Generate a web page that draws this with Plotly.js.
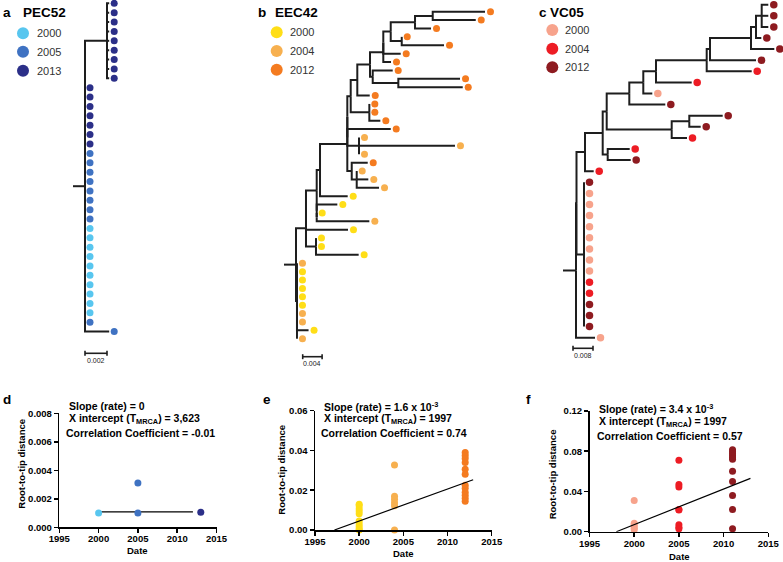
<!DOCTYPE html>
<html><head><meta charset="utf-8">
<script src="https://cdn.plot.ly/plotly-3.0.1.min.js"></script>
<style>html,body{margin:0;padding:0;background:#fff}#chart{width:783px;height:562px}</style>
</head><body><div id="chart"></div>
<script>
// ================= DATA =================
// --- Tree a: PEC52 (Newick, branch lengths in substitutions/site, tip label = year)
const pec52_top = "(2013:0.0002,2013:0.0002,2013:0.0002,2013:0.0002,2013:0.0002,2013:0.0002,2013:0.0002,2013:0.0002,2013:0.0002)";
const pec52_low = "2013:0,2013:0,2013:0,2013:0,2013:0,2013:0,2013:0,2005:0,2005:0,2005:0,2005:0,2005:0,2005:0,2005:0,2005:0,2000:0,2000:0,2000:0,2000:0,2000:0,2000:0,2000:0,2000:0,2000:0,2000:0,2005:0";
const treeA = "(" + pec52_top + ":0.002," + pec52_low + ",2005:0.0022);";

// --- Tree b: EEC42
const b_n432 = "(2012:0.01078,2012:0.00887)";
const b_n415 = "(" + b_n432 + ":0.00365,2012:0.0033)";
const b_n401 = "(2012:0,2012:0.00872)";
const b_n390 = "(" + b_n415 + ":0.00501," + b_n401 + ":0.00227)";
const b_n383 = "((" + b_n390 + ":0.00153,2012:0.00359):0,2012:0.00159)";
const b_n398 = "(2012:0.01272,2012:0.01328)";
const b_n372 = "(2012:0.00412," + b_n398 + ":0.00528)";
const b_n370 = "(" + b_n383 + ":0.00274," + b_n372 + ":0.00056)";
const b_n357 = "(" + b_n370 + ":0.00262,2012:0.00256)";
const b_n369 = "(2012:0,2012:0,2012:0.00227)";
const b_n350 = "(" + b_n357 + ":0.00136," + b_n369 + ":0.00384)";
const b_cA = "(2004:0,2004:0.01979,2004:0)";
const b_n356 = "(2004:0,2004:0.00239,2004:0.0046)";
const b_cB = "(2012:0.0033," + b_n356 + ":0.00103)";
const b_n347 = "((" + b_n350 + ":0.0007,(2012:0.00895," + b_cA + ":0.00241):0):0," + b_cB + ":0.00091)";
const b_n320 = "(" + b_n347 + ":0.00563,2000:0.00571)";
const b_n317 = "(" + b_n320 + ":0.00068,(2000:0.00425,(2000:0,2004:0.01085):0):0)";
const b_n316 = "(2000:0,2000:0,2000:0.0088)";
const b_n306 = "((" + b_n317 + ":0.00221,2000:0.00866):0," + b_n316 + ":0.00206)";
const b_nX = "(2004:0,2000:0,2000:0,2000:0,2000:0,2000:0,2004:0,2004:0,2000:0.00239,2004:0)";
const treeB = "(" + b_n306 + ":0.00206," + b_nX + ":0.0002);";

// --- Tree c: VC05
const c_A = "(2012:0.00264,2012:0.00264,2012:0.00264)";
const c_B = "(" + c_A + ":0.00228,2012:0.00212)";
const c_C = "(" + c_B + ":0.002,2012:0.00932)";
const c_D = "(" + c_C + ":0.0164,2012:0.0184)";
const c_E = "(" + c_D + ":0.00132,2004:0.018)";
const c_F = "(" + c_E + ":0.02028,2004:0.01428)";
const c_G = "(" + c_F + ":0.00508,2000:0.0036)";
const c_H = "(" + c_G + ":0.0056,2012:0.0144)";
const c_I = "((2012:0.01336,2012:0.00456):0.00704,2004:0.00612)";
const c_K = "(" + c_H + ":0.00904," + c_I + ":0.026)";
const c_L = "(2004:0.0088,2012:0.0092)";
const c_M = "(" + c_K + ":0.0016," + c_L + ":0.002)";
const c_N = "(" + c_M + ":0.00708,2004:0.00348)";
const c_Y = "(2012:0,2000:0,2000:0,2000:0,2000:0,2000:0,2000:0,2000:0,2000:0,2004:0,2004:0,2012:0,2012:0,2012:0)";
const c_P = "(" + c_N + ":0.0034," + c_Y + ":0.003)";
const treeC = "(" + c_P + ":0.0002,2000:0.0076);";

// --- Legends
const yearsA = ["2000", "2005", "2013"];
const yearsB = ["2000", "2004", "2012"];
const yearsC = ["2000", "2004", "2012"];
const scaleA = 0.002, scaleB = 0.004, scaleC = 0.008;

// --- Root-to-tip regressions
// d: PEC52
const d_x2000 = [2000], d_y2000 = [0.001];
const d_x2005 = [2005, 2005], d_y2005 = [0.001, 0.0031];
const d_x2013 = [2013], d_y2013 = [0.00105];
const d_fitX = [2000, 2012], d_fitY = [0.00108, 0.00108];
// e: EEC42
const e_x2000 = [2000,2000,2000,2000,2000,2000,2000,2000,2000,2000];
const e_y2000 = [0.013, 0.0122, 0.0107, 0.0095, 0.0082, 0.0045, 0.003, 0.0017, 0.0005, 0];
const e_x2004 = [2004,2004,2004,2004,2004,2004];
const e_y2004 = [0.0327, 0.017, 0.0155, 0.0137, 0.0122, 0];
const e_x2012 = [2012,2012,2012,2012,2012,2012,2012,2012,2012,2012,2012,2012];
const e_y2012 = [0.039, 0.0375, 0.036, 0.034, 0.0305, 0.028, 0.0225, 0.021, 0.019, 0.0175, 0.016, 0.0145];
const e_fitX = [1997.2, 2012.9], e_fitY = [0, 0.0253];
// f: VC05
const f_x2000 = [2000,2000,2000,2000,2000,2000];
const f_y2000 = [0.031, 0.0085, 0.007, 0.005, 0.0035, 0.002];
const f_x2004 = [2005,2005,2005,2005,2005,2005,2005,2005];
const f_y2004 = [0.071, 0.047, 0.0445, 0.022, 0.0215, 0.007, 0.0045, 0.003];
const f_x2012 = [2011,2011,2011,2011,2011,2011,2011,2011,2011,2011,2011];
const f_y2012 = [0.0815, 0.0795, 0.0775, 0.0755, 0.0735, 0.072, 0.06, 0.05, 0.036, 0.022, 0.003];
const f_fitX = [1998, 2013], f_fitY = [0, 0.053];

// ================= STYLE =================
const colA = {"2000": "#58c6ef", "2005": "#3f72c2", "2013": "#2b2f88"};
const colB = {"2000": "#ffde17", "2004": "#f7b04f", "2012": "#f47b20"};
const colC = {"2000": "#f7a38c", "2004": "#ed1c24", "2012": "#8e1b20"};
const FONT = "Liberation Sans, Arial, Helvetica, sans-serif";
const W = 783, H = 562;
const px = x => x / W, py = y => 1 - y / H;

const traces = [], annotations = [];
const layout = {
  width: W, height: H, margin: {l: 0, r: 0, t: 0, b: 0},
  paper_bgcolor: "#ffffff", plot_bgcolor: "rgba(0,0,0,0)", showlegend: false,
  font: {family: FONT, color: "#000"}, annotations: annotations
};

function parseNewick(str) {
  const s = str.replace(/\s+/g, "");
  let i = 0;
  function node() {
    const n = {children: [], label: "", len: 0};
    if (s[i] === "(") {
      i++;
      n.children.push(node());
      while (s[i] === ",") { i++; n.children.push(node()); }
      i++;
    }
    let lab = "";
    while (i < s.length && ":,();".indexOf(s[i]) < 0) lab += s[i++];
    n.label = lab;
    if (s[i] === ":") {
      i++; let num = "";
      while (i < s.length && ",();".indexOf(s[i]) < 0) num += s[i++];
      n.len = parseFloat(num);
    }
    return n;
  }
  return node();
}

function layoutTree(root) {
  const tips = [];
  (function sx(n, x) { n.x = x; n.children.forEach(c => sx(c, x + c.len)); })(root, 0);
  (function sy(n) {
    if (!n.children.length) { n.y = tips.length; tips.push(n); }
    else { n.children.forEach(sy); n.y = (n.children[0].y + n.children[n.children.length - 1].y) / 2; }
  })(root);
  return tips;
}

function ann(text, x, y, o) {
  annotations.push(Object.assign({
    text: text, x: px(x), y: py(y), xref: "paper", yref: "paper", showarrow: false,
    xanchor: "center", yanchor: "middle", font: {family: FONT, size: 10, color: "#000"}
  }, o || {}));
}

function drawTree(k, newick, cfg, colors) {
  const sfx = k === 1 ? "" : String(k);
  const xa = "x" + sfx, ya = "y" + sfx;
  const root = parseNewick(newick);
  const tips = layoutTree(root);
  const s = cfg.s; // px per unit
  const toIdx = p => (p - cfg.tip0) / cfg.step;
  const xs = [], ys = [];
  (function walk(n) {
    n.children.forEach(c => { xs.push(n.x, n.x, c.x, null); ys.push(n.y, c.y, c.y, null); walk(c); });
  })(root);
  xs.push(root.x - cfg.stubPx / s, root.x, null); ys.push(root.y, root.y, null);
  traces.push({type: "scatter", mode: "lines", x: xs, y: ys, xaxis: xa, yaxis: ya,
    line: {color: "#1e1e1e", width: 2}, hoverinfo: "skip", cliponaxis: false});
  const off = cfg.dotOffPx / s;
  traces.push({type: "scatter", mode: "markers", x: tips.map(t => t.x + off), y: tips.map(t => t.y),
    xaxis: xa, yaxis: ya, cliponaxis: false, hoverinfo: "skip",
    marker: {size: cfg.dot, color: tips.map(t => colors[t.label]), line: {width: 0}}});
  // scale bar
  const x0 = (cfg.barPx - cfg.rootPx) / s, x1 = x0 + cfg.bar;
  const yb = toIdx(cfg.barY), tk = 2.5 / cfg.step;
  traces.push({type: "scatter", mode: "lines", xaxis: xa, yaxis: ya, hoverinfo: "skip", cliponaxis: false,
    x: [x0, x1, null, x0, x0, null, x1, x1], y: [yb, yb, null, yb - tk, yb + tk, null, yb - tk, yb + tk],
    line: {color: "#1e1e1e", width: 1.6}});
  ann(String(cfg.bar), cfg.barPx + cfg.bar * s / 2, cfg.barY + 7, {font: {family: FONT, size: 7, color: "#222"}});
  layout["xaxis" + sfx] = {domain: [px(cfg.X0), px(cfg.X1)], range: [(cfg.X0 - cfg.rootPx) / s, (cfg.X1 - cfg.rootPx) / s],
    visible: false, fixedrange: true};
  layout["yaxis" + sfx] = {domain: [py(cfg.Y1), py(cfg.Y0)], range: [toIdx(cfg.Y1), toIdx(cfg.Y0)],
    visible: false, fixedrange: true};
}

drawTree(1, treeA, {rootPx: 85, s: 22 / 0.002, tip0: 3.3, step: 9.38, stubPx: 12, dotOffPx: 5, dot: 7,
  X0: 50, X1: 140, Y0: 0, Y1: 372, bar: scaleA, barPx: 85, barY: 353.3}, colA);
drawTree(2, treeB, {rootPx: 296, s: 19.4 / 0.004, tip0: 11.7, step: 8.385, stubPx: 12, dotOffPx: 5.5, dot: 7,
  X0: 270, X1: 510, Y0: 0, Y1: 372, bar: scaleB, barPx: 302.7, barY: 356.7}, colB);
drawTree(3, treeC, {rootPx: 576, s: 20 / 0.008, tip0: 4.7, step: 11.1, stubPx: 13, dotOffPx: 5.5, dot: 7.5,
  X0: 550, X1: 783, Y0: 0, Y1: 372, bar: scaleC, barPx: 573, barY: 348.3}, colC);

// ---- panel titles and legends (pixel overlay axis 7)
layout.xaxis7 = {domain: [0, 1], range: [0, W], visible: false, fixedrange: true};
layout.yaxis7 = {domain: [0, 1], range: [H, 0], visible: false, fixedrange: true};
function legend(years, colors, mx, ys, tx) {
  traces.push({type: "scatter", mode: "markers", xaxis: "x7", yaxis: "y7", hoverinfo: "skip", cliponaxis: false,
    x: years.map(() => mx), y: ys, marker: {size: 12, color: years.map(y => colors[y])}});
  years.forEach((yr, i) => ann(yr, tx, ys[i], {xanchor: "left", font: {family: FONT, size: 11, color: "#333"}}));
}
legend(yearsA, colA, 23, [33.3, 51.7, 70.7], 35);
legend(yearsB, colB, 276.7, [32.3, 51, 69.7], 287.7);
legend(yearsC, colC, 552.3, [30, 48.7, 67.3], 562.7);

const TF = {family: FONT, size: 13.5, color: "#000", weight: "bold"};
ann("a", 1, 12, {xanchor: "left", font: TF});
ann("PEC52", 20.5, 12, {xanchor: "left", font: TF});
ann("b", 256, 12, {xanchor: "left", font: TF});
ann("EEC42", 272.5, 12, {xanchor: "left", font: TF});
ann("c", 537, 12, {xanchor: "left", font: TF});
ann("VC05", 548, 12, {xanchor: "left", font: TF});
ann("d", 1, 399, {xanchor: "left", font: TF});
ann("e", 261, 399, {xanchor: "left", font: TF});
ann("f", 524, 399, {xanchor: "left", font: TF});

// ---- scatter panels
const TICKF = {family: FONT, size: 9.5, color: "#000", weight: "bold"};
function scatterAxes(n, xd, yd, yr, dtick, fmt) {
  layout["xaxis" + n] = {domain: [px(xd[0]), px(xd[1])], range: [1995, 2015], tick0: 1995, dtick: 5, anchor: "y" + n,
    showline: true, linecolor: "#000", linewidth: 1.5, ticks: "outside", ticklen: 4, tickwidth: 1.5, tickcolor: "#000",
    ticklabelstandoff: -2, tickfont: TICKF, showgrid: false, zeroline: false, fixedrange: true};
  layout["yaxis" + n] = {domain: [py(yd[1]), py(yd[0])], range: yr, tick0: 0, dtick: dtick, tickformat: fmt, anchor: "x" + n,
    showline: true, linecolor: "#000", linewidth: 1.5, ticks: "outside", ticklen: 4, tickwidth: 1.5, tickcolor: "#000",
    tickfont: TICKF, showgrid: false, zeroline: false, fixedrange: true};
}
function pts(n, xs, ys, color) {
  traces.push({type: "scatter", mode: "markers", x: xs, y: ys, xaxis: "x" + n, yaxis: "y" + n, cliponaxis: false,
    hoverinfo: "skip", marker: {size: 7, color: color}});
}
function fit(n, xs, ys) {
  traces.push({type: "scatter", mode: "lines", x: xs, y: ys, xaxis: "x" + n, yaxis: "y" + n, cliponaxis: false,
    hoverinfo: "skip", line: {color: "#000", width: 1.2}});
}
scatterAxes(4, [59.3, 216.5], [413.3, 527.3], [0, 0.008], 0.002, ".3f");
fit(4, d_fitX, d_fitY);
pts(4, d_x2000, d_y2000, colA["2000"]); pts(4, d_x2005, d_y2005, colA["2005"]); pts(4, d_x2013, d_y2013, colA["2013"]);

scatterAxes(5, [315, 491.7], [410.7, 530], [0, 0.06], 0.02, ".2f");
pts(5, e_x2000, e_y2000, colB["2000"]); pts(5, e_x2004, e_y2004, colB["2004"]); pts(5, e_x2012, e_y2012, colB["2012"]);
fit(5, e_fitX, e_fitY);

scatterAxes(6, [589.5, 768.3], [411, 531.7], [0, 0.12], 0.04, ".2f");
pts(6, f_x2000, f_y2000, colC["2000"]); pts(6, f_x2004, f_y2004, colC["2004"]); pts(6, f_x2012, f_y2012, colC["2012"]);
fit(6, f_fitX, f_fitY);

const AF = {family: FONT, size: 10.5, color: "#000", weight: "bold"};
const ATF = {family: FONT, size: 9.5, color: "#000", weight: "bold"};
// d
ann("Slope (rate) = 0", 66.7, 406, {xanchor: "left", font: AF});
ann("X intercept (T<sub>MRCA</sub>) = 3,623", 66.7, 419.3, {xanchor: "left", font: AF});
ann("Correlation Coefficient = -0.01", 64, 432.7, {xanchor: "left", font: AF});
ann("Root-to-tip distance", 20.7, 464, {textangle: -90, font: ATF});
ann("Date", 137.3, 550, {font: ATF});
// e
ann("Slope (rate) = 1.6 x 10<sup>-3</sup>", 322.3, 406, {xanchor: "left", font: AF});
ann("X intercept (T<sub>MRCA</sub>) = 1997", 321.7, 419.3, {xanchor: "left", font: AF});
ann("Correlation Coefficient = 0.74", 319.3, 432.7, {xanchor: "left", font: AF});
ann("Root-to-tip distance", 280.7, 470, {textangle: -90, font: ATF});
ann("Date", 403.3, 553.3, {font: ATF});
// f
ann("Slope (rate) = 3.4 x 10<sup>-3</sup>", 597.3, 408.3, {xanchor: "left", font: AF});
ann("X intercept (T<sub>MRCA</sub>) = 1997", 597.3, 422.3, {xanchor: "left", font: AF});
ann("Correlation Coefficient = 0.57", 595, 435.7, {xanchor: "left", font: AF});
ann("Root-to-tip distance", 553.3, 474, {textangle: -90, font: ATF});
ann("Date", 679.3, 556.7, {font: ATF});

Plotly.newPlot("chart", traces, layout, {staticPlot: true, displayModeBar: false});
</script>
</body></html>
